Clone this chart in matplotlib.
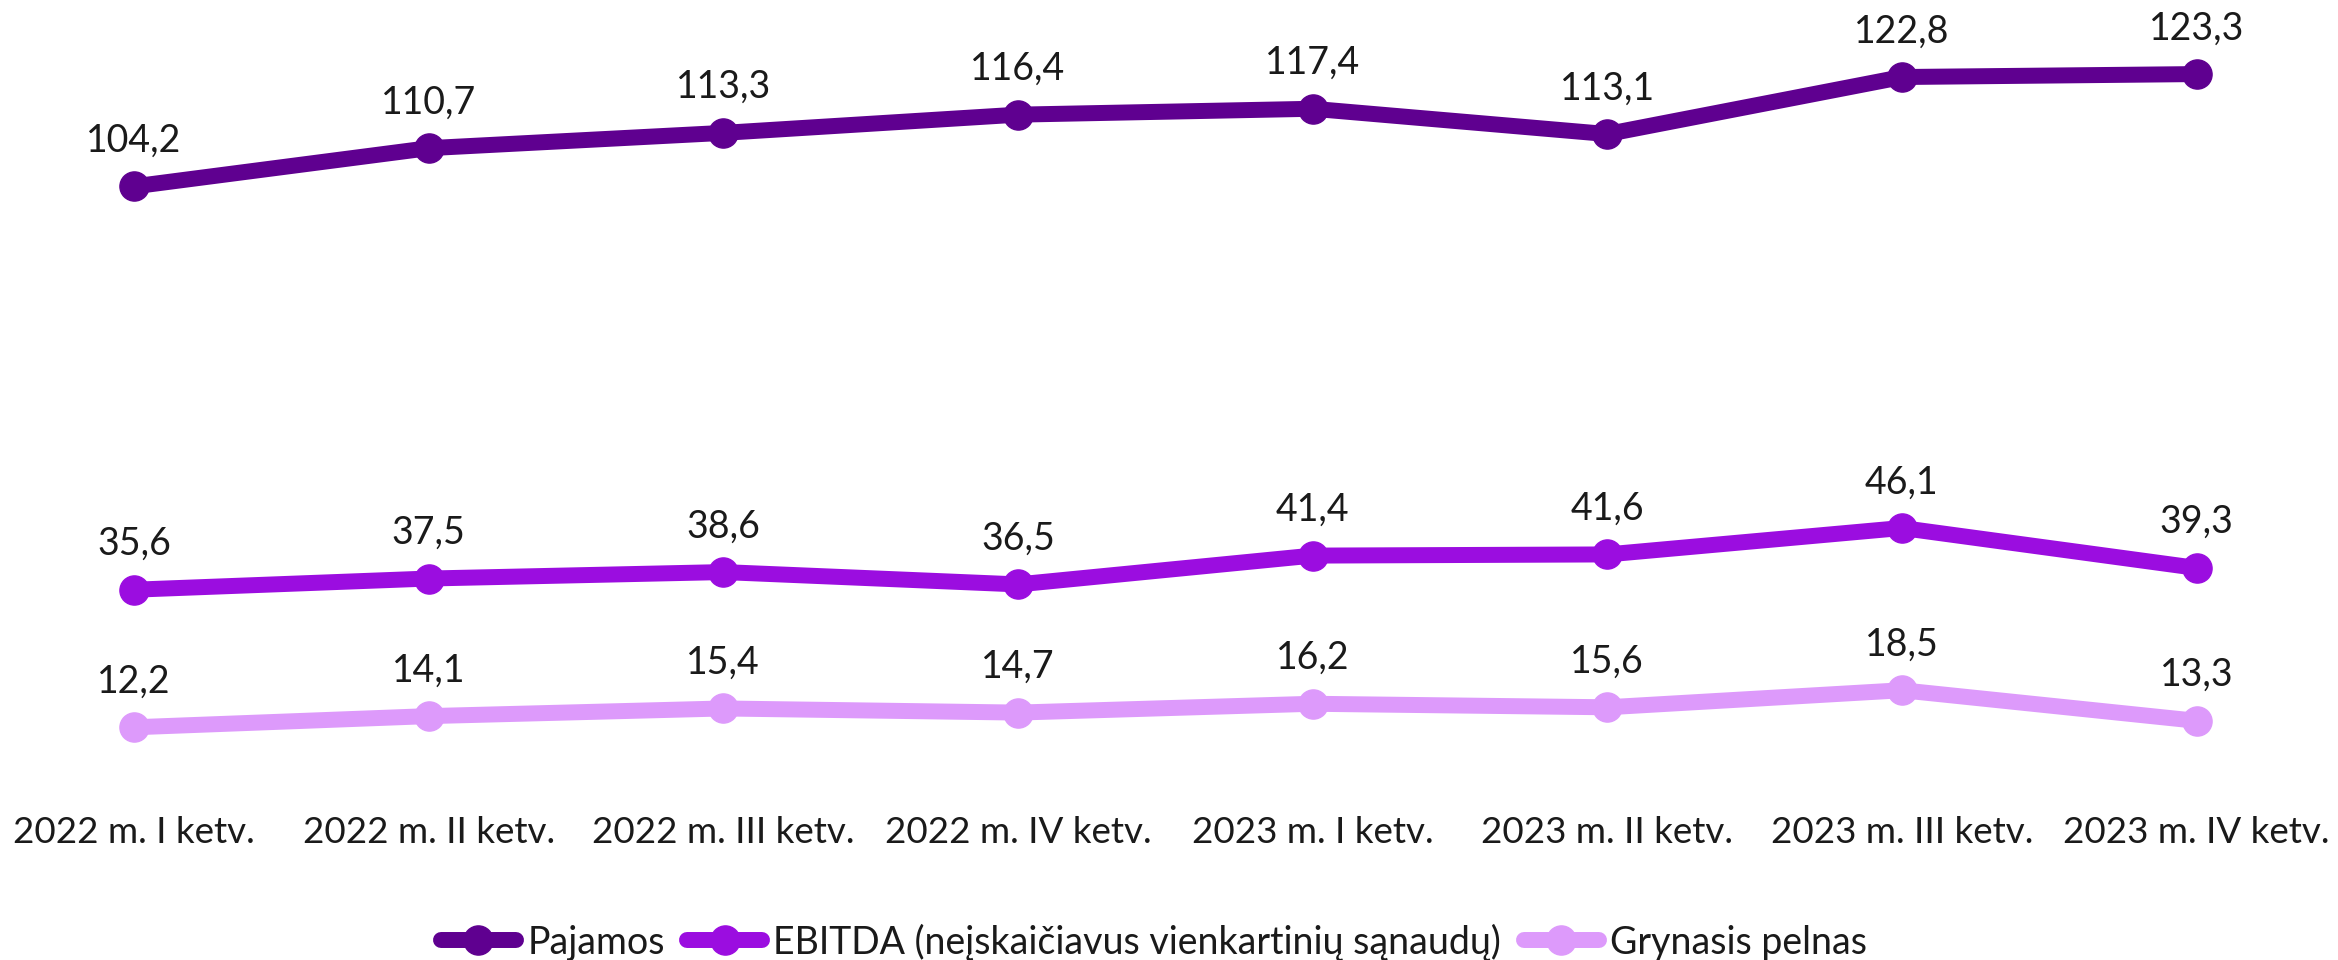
import numpy as np
import matplotlib
matplotlib.use("Agg")
from matplotlib import pyplot as plt

quarters = ["2022 m. I ketv.", "2022 m. II ketv.", "2022 m. III ketv.", "2022 m. IV ketv.",
            "2023 m. I ketv.", "2023 m. II ketv.", "2023 m. III ketv.", "2023 m. IV ketv."]
pajamos = [104.2, 110.7, 113.3, 116.4, 117.4, 113.1, 122.8, 123.3]
ebitda = [35.6, 37.5, 38.6, 36.5, 41.4, 41.6, 46.1, 39.3]
pelnas = [12.2, 14.1, 15.4, 14.7, 16.2, 15.6, 18.5, 13.3]

series = [
    ("Pajamos", pajamos, "#5f0090"),
    ("EBITDA (neįskaičiavus vienkartinių sąnaudų)", ebitda, "#9b0de0"),
    ("Grynasis pelnas", pelnas, "#dd9afb"),
]

plt.rcParams['font.family'] = ['Lato', 'DejaVu Sans']
text_color = "#1a1a1a"

fig = plt.figure(figsize=(23.38, 9.6), dpi=100)
ax = fig.add_axes([0, 0.1677, 1, 0.8323])

x = np.arange(len(quarters))
for name, vals, color in series:
    ax.plot(x, vals, color=color, lw=11.5, marker="o", markersize=21,
            solid_capstyle="round", label=name)
    for xi, v in zip(x, vals):
        ax.annotate(f"{v:.1f}".replace(".", ","), (xi, v), xytext=(0, 25),
                    textcoords="offset points", ha="center", va="baseline",
                    fontsize=27, color=text_color)

ax.set_xlim(-0.455, 7.48)
ax.set_ylim(0, 135.9)
ax.set_xticks(x)
ax.set_xticklabels(quarters, fontsize=26.5, color=text_color)
ax.tick_params(axis="x", length=0, pad=12)
ax.set_yticks([])
for s in ax.spines.values():
    s.set_visible(False)

fig.legend(loc="center", bbox_to_anchor=(1154 / 2338, 1 - 942 / 960), ncol=3,
           frameon=False, fontsize=27, handlelength=2.0, handletextpad=0.3,
           columnspacing=0.6, labelcolor=text_color)

plt.savefig("out.png", dpi=100)
